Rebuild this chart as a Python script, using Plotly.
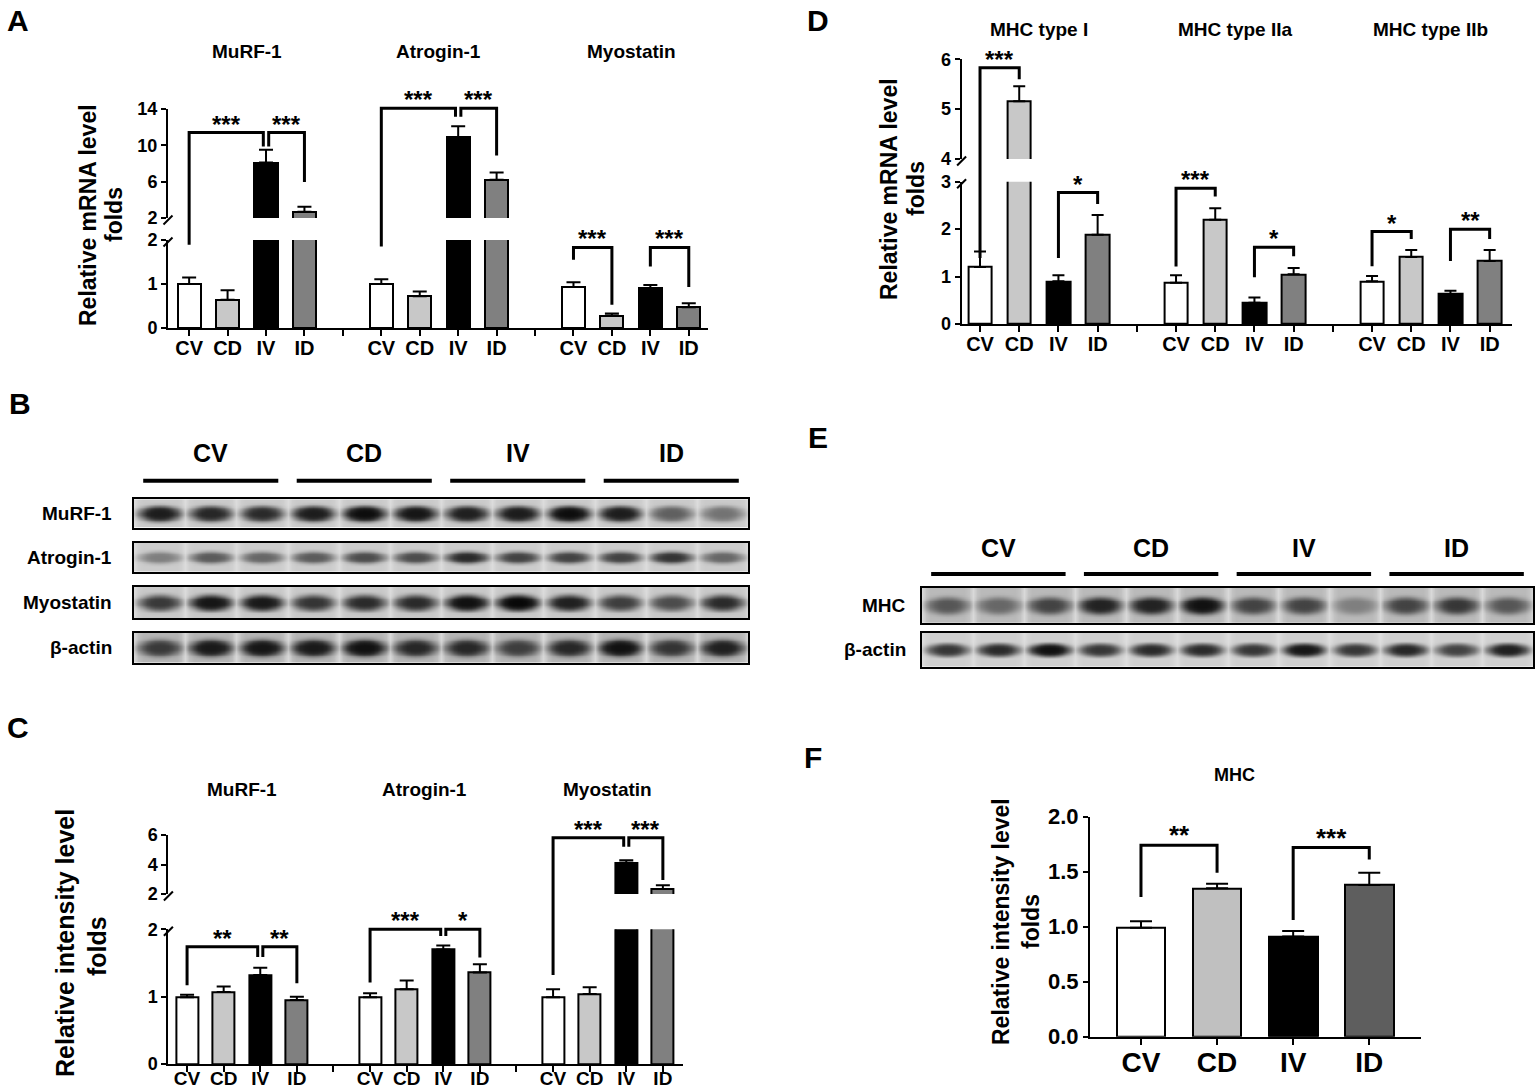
import numpy as np
import plotly.graph_objects as go

W, H = 1535, 1092
FONT = "Liberation Sans, Arial, Helvetica, sans-serif"

groups = ["CV", "CD", "IV", "ID"]
colors_acd = ["#ffffff", "#c8c8c8", "#000000", "#808080"]
colors_f = ["#ffffff", "#c0c0c0", "#000000", "#5e5e5e"]

# ---------------- Panel A : relative mRNA (atrophy genes)
a_genes = ["MuRF-1", "Atrogin-1", "Myostatin"]
a_mean = [[1.00, 0.64, 8.1, 2.7],
          [1.00, 0.72, 10.9, 6.2],
          [0.93, 0.28, 0.90, 0.47]]
a_sem = [[0.15, 0.22, 1.4, 0.55],
         [0.11, 0.11, 1.2, 0.8],
         [0.11, 0.05, 0.08, 0.09]]
a_ticks = [[0, 1, 2], [2, 6, 10, 14]]
# (gene, bar i, bar j, bracket top, leg i bottom, leg j bottom, label)
a_sig = [(0, 0, 2, 11.4, 1.89, 9.87, "***"),
         (0, 2, 3, 11.4, 9.87, 5.95, "***"),
         (1, 0, 2, 14.07, 1.85, 13.16, "***"),
         (1, 2, 3, 14.07, 13.16, 8.88, "***"),
         (2, 0, 1, 1.83, 1.55, 0.53, "***"),
         (2, 2, 3, 1.83, 1.40, 0.93, "***")]

# ---------------- Panel D : relative mRNA (MHC isoforms)
d_genes = ["MHC type I", "MHC type IIa", "MHC type IIb"]
d_mean = [[1.20, 5.16, 0.90, 1.88],
          [0.87, 2.20, 0.45, 1.05],
          [0.90, 1.41, 0.63, 1.33]]
d_sem = [[0.33, 0.30, 0.13, 0.42],
         [0.16, 0.24, 0.11, 0.13],
         [0.11, 0.15, 0.07, 0.23]]
d_ticks = [[0, 1, 2, 3], [4, 5, 6]]
d_sig = [(0, 0, 1, 5.83, 1.39, 5.60, "***"),
         (0, 2, 3, 2.77, 1.39, 2.53, "*"),
         (1, 0, 1, 2.86, 1.21, 2.69, "***"),
         (1, 2, 3, 1.62, 0.985, 1.43, "*"),
         (2, 0, 1, 1.95, 1.22, 1.79, "*"),
         (2, 2, 3, 2.00, 1.33, 1.79, "**")]

# ---------------- Panel C : relative band intensity (atrophy proteins)
c_genes = ["MuRF-1", "Atrogin-1", "Myostatin"]
c_mean = [[0.99, 1.07, 1.32, 0.95],
          [0.99, 1.11, 1.70, 1.36],
          [0.99, 1.04, 4.12, 2.34]]
c_sem = [[0.04, 0.08, 0.11, 0.05],
         [0.06, 0.13, 0.06, 0.12],
         [0.12, 0.10, 0.16, 0.25]]
c_ticks = [[0, 1, 2], [2, 4, 6]]
c_sig = [(0, 0, 2, 1.74, 1.17, 1.59, "**"),
         (0, 2, 3, 1.74, 1.59, 1.20, "**"),
         (1, 0, 2, 2.00, 1.21, 1.90, "***"),
         (1, 2, 3, 2.00, 1.90, 1.58, "*"),
         (2, 0, 2, 5.82, 1.32, 5.20, "***"),
         (2, 2, 3, 5.82, 5.20, 2.95, "***")]

# ---------------- Panel F : relative band intensity (MHC)
f_genes = ["MHC"]
f_mean = [[0.99, 1.35, 0.91, 1.38]]
f_sem = [[0.06, 0.04, 0.05, 0.11]]
f_ticks = [[0.0, 0.5, 1.0, 1.5, 2.0]]
f_ticktext = [["0.0", "0.5", "1.0", "1.5", "2.0"]]
f_sig = [(0, 0, 1, 1.74, 1.27, 1.49, "**"),
         (0, 2, 3, 1.72, 1.06, 1.61, "***")]

# ---------------- Western blots (relative band darkness per lane, 3 lanes per group)
b_rows = ["MuRF-1", "Atrogin-1", "Myostatin", "β-actin"]
b_bands = [[0.88, 0.82, 0.80, 0.88, 0.97, 0.92, 0.86, 0.88, 0.97, 0.88, 0.58, 0.50],
           [0.45, 0.60, 0.55, 0.60, 0.66, 0.66, 0.80, 0.70, 0.70, 0.70, 0.76, 0.55],
           [0.74, 0.92, 0.90, 0.76, 0.80, 0.80, 0.95, 1.00, 0.86, 0.72, 0.66, 0.80],
           [0.74, 0.90, 0.92, 0.90, 0.95, 0.82, 0.82, 0.72, 0.82, 0.95, 0.76, 0.86]]
e_rows = ["MHC", "β-actin"]
e_bands = [[0.62, 0.55, 0.70, 0.85, 0.85, 0.95, 0.70, 0.70, 0.45, 0.70, 0.75, 0.62],
           [0.75, 0.80, 0.95, 0.75, 0.80, 0.80, 0.75, 0.92, 0.75, 0.82, 0.70, 0.86]]

# ======================================================================
def xp(px):
    return px / W


def yp(py):
    return 1 - py / H


def axkey(a):
    return a[0] + "axis" + a[1:]


def bfont(size):
    return dict(family=FONT, size=size, color="black", weight="bold")


fig = go.Figure()
lay = {}
shapes = []
annos = []

PANELS = {
    "A": dict(x="x", xpx=(168, 708), xr=(-0.55, 13.5),
              segs=[dict(y="y", py=(240, 328), r=(0, 2)),
                    dict(y="y2", py=(109, 218), r=(2, 14))]),
    "D": dict(x="x2", xpx=(961.6, 1511.6), xr=(-0.47, 13.56),
              segs=[dict(y="y3", py=(181.7, 324), r=(0, 3)),
                    dict(y="y4", py=(59.3, 159), r=(4, 6))]),
    "C": dict(x="x3", xpx=(168.4, 683), xr=(-0.51, 13.55),
              segs=[dict(y="y5", py=(929.3, 1064), r=(0, 2)),
                    dict(y="y6", py=(835, 894), r=(2, 6))]),
    "F": dict(x="x4", xpx=(1090, 1421), xr=(-0.67, 3.68),
              segs=[dict(y="y7", py=(816.7, 1036.7), r=(0, 2))]),
}


def val_to_paper(p, v):
    segs = p["segs"]
    seg = segs[0]
    if len(segs) > 1 and v > segs[0]["r"][1]:
        seg = segs[1]
    top, bot = seg["py"]
    r0, r1 = seg["r"]
    return yp(bot - (v - r0) / (r1 - r0) * (bot - top))


def bar_panel(p, genes, means, sems, colors, ticks, ticktext, xfs, yfs,
              width, cap, title_py, title_fs=19, title_x=None, xstand=-5):
    n = len(means)
    xs = [g * 5 + k for g in range(n) for k in range(4)]
    ys = [v for row in means for v in row]
    es = [v for row in sems for v in row]
    cs = colors * n
    for seg in p["segs"]:
        fig.add_trace(go.Bar(
            x=xs, y=ys, xaxis=p["x"], yaxis=seg["y"], width=width,
            marker=dict(color=cs, line=dict(color="black", width=2)),
            error_y=dict(type="data", array=es, arrayminus=[0] * len(es),
                         symmetric=False, color="black", thickness=2, width=cap),
            hoverinfo="skip", showlegend=False))
    tv = list(range(n * 5 - 1))
    tt = [groups[t % 5] if t % 5 < 4 else "" for t in tv]
    lay[axkey(p["x"])] = dict(
        domain=[xp(p["xpx"][0]), xp(p["xpx"][1])], range=list(p["xr"]),
        anchor=p["segs"][0]["y"], showline=True, linecolor="black", linewidth=2,
        ticks="outside", ticklen=6, tickwidth=2, tickcolor="black",
        tickmode="array", tickvals=tv, ticktext=tt, tickfont=bfont(xfs),
        ticklabelstandoff=xstand,
        showgrid=False, zeroline=False, automargin=False)
    for si, seg in enumerate(p["segs"]):
        top, bot = seg["py"]
        tk = ticks[si]
        txt = ticktext[si] if ticktext else [str(t) for t in tk]
        lay[axkey(seg["y"])] = dict(
            domain=[yp(bot), yp(top)], range=list(seg["r"]), anchor=p["x"],
            showline=True, linecolor="black", linewidth=2,
            ticks="outside", ticklen=5, tickwidth=2, tickcolor="black",
            tickmode="array", tickvals=tk, ticktext=txt, tickfont=bfont(yfs),
            showgrid=False, zeroline=False, automargin=False)
    # axis break marks
    if len(p["segs"]) > 1:
        ax_x = p["xpx"][0]
        for yend in (p["segs"][0]["py"][0], p["segs"][1]["py"][1]):
            shapes.append(dict(type="line", xref="paper", yref="paper",
                               x0=xp(ax_x - 4.5), y0=yp(yend + 6.5),
                               x1=xp(ax_x + 4.5), y1=yp(yend - 2.5),
                               line=dict(color="black", width=2)))
    # titles
    for g, name in enumerate(genes):
        if title_x is None:
            annos.append(dict(text=name, x=g * 5 + 1.5, xref=p["x"], y=yp(title_py),
                              yref="paper", showarrow=False, font=bfont(title_fs),
                              xanchor="center", yanchor="middle"))
        else:
            annos.append(dict(text=name, x=xp(title_x), xref="paper", y=yp(title_py),
                              yref="paper", showarrow=False, font=bfont(title_fs),
                              xanchor="center", yanchor="middle"))


def brackets(p, sig, star_fs=24, lw=3):
    ends = {}
    for s in sig:
        for b in (s[1], s[2]):
            ends[(s[0], b)] = ends.get((s[0], b), 0) + 1
    for (g, i, j, top, li, lj, lab) in sig:
        xi = g * 5 + i
        xj = g * 5 + j
        if ends[(g, i)] > 1:
            xi += 0.07
        if ends[(g, j)] > 1:
            xj -= 0.07
        yt = val_to_paper(p, top)
        yi = val_to_paper(p, li)
        yj = val_to_paper(p, lj)
        shapes.append(dict(type="path", xref=p["x"], yref="paper",
                           path=f"M {xi},{yi} L {xi},{yt} L {xj},{yt} L {xj},{yj}",
                           line=dict(color="black", width=lw)))
        annos.append(dict(text=lab, x=(xi + xj) / 2, xref=p["x"], y=yt, yref="paper",
                          showarrow=False, font=bfont(star_fs), xanchor="center",
                          yanchor="bottom", yshift=-7))


def ytitle(lines, fs):
    for text, x_px, y_px in lines:
        annos.append(dict(text=text, x=xp(x_px), y=yp(y_px), xref="paper", yref="paper",
                          showarrow=False, textangle=-90, font=bfont(fs),
                          xanchor="center", yanchor="middle"))


# ---------- bar panels
bar_panel(PANELS["A"], a_genes, a_mean, a_sem, colors_acd, a_ticks, None, 20, 18, 0.6, 7, 51)
brackets(PANELS["A"], a_sig)
ytitle([("Relative mRNA level", 88, 215), ("folds", 114, 215)], 23)

bar_panel(PANELS["D"], d_genes, d_mean, d_sem, colors_acd, d_ticks, None, 20, 18, 0.6, 6, 29)
brackets(PANELS["D"], d_sig)
ytitle([("Relative mRNA level", 889, 189), ("folds", 916, 189)], 23)

bar_panel(PANELS["C"], c_genes, c_mean, c_sem, colors_acd, c_ticks, None, 19, 18, 0.6, 7, 789,
          xstand=-10)
brackets(PANELS["C"], c_sig)
ytitle([("Relative intensity level", 65, 943), ("folds", 97, 946)], 25)

bar_panel(PANELS["F"], f_genes, f_mean, f_sem, colors_f, f_ticks, f_ticktext, 28, 22, 0.64, 11, 775,
          title_fs=18, title_x=1234, xstand=-6)
brackets(PANELS["F"], f_sig, star_fs=26)
ytitle([("Relative intensity level", 1001, 922), ("folds", 1031, 922)], 23)

# ---------- western blots
BLOT_SCALE = [[0.0, "#e2e2e2"], [0.14, "#c8c8c8"], [0.5, "#737373"],
              [0.8, "#2a2a2a"], [1.0, "#080808"]]


def blot_strip(xax, yax, xpx, pyr, intens, thick, bg):
    n = len(intens)
    xs = np.linspace(-0.5, n - 0.5, n * 12 + 1)
    ys = np.linspace(0, 1, 19)
    X, Y = np.meshgrid(xs, ys)
    lane = np.clip(np.round(X), 0, n - 1).astype(int)
    dx = X - lane
    dy = Y - 0.5
    inten = np.array(intens)[lane]
    r2 = (dx / 0.43) ** 2 + (dy / (thick / 2)) ** 2
    prof = np.exp(-(r2 ** 2))
    streak = np.exp(-((np.abs(dx) - 0.5) / 0.07) ** 2)
    base = bg * (1 - 0.75 * streak)
    z = base + (inten - base) * prof
    fig.add_trace(go.Heatmap(x=xs, y=ys, z=z.tolist(), zmin=0, zmax=1,
                             colorscale=BLOT_SCALE, showscale=False, zsmooth="best",
                             xaxis=xax, yaxis=yax, hoverinfo="skip"))
    common = dict(showline=True, mirror=True, linecolor="black", linewidth=1.5,
                  ticks="", showticklabels=False, showgrid=False, zeroline=False,
                  automargin=False)
    lay[axkey(xax)] = dict(domain=[xp(xpx[0]), xp(xpx[1])], range=[-0.5, n - 0.5],
                           anchor=yax, **common)
    lay[axkey(yax)] = dict(domain=[yp(pyr[1]), yp(pyr[0])], range=[0, 1],
                           anchor=xax, **common)


def blot_panel(rows, bands, xaxes, yaxes, xpx, strips_py, label_right, thick, bgs,
               grp_py, line_py, rfs):
    for k in range(len(rows)):
        blot_strip(xaxes[k], yaxes[k], xpx, strips_py[k], bands[k], thick[k], bgs[k])
        annos.append(dict(text=rows[k], x=xp(label_right), xref="paper",
                          y=yp((strips_py[k][0] + strips_py[k][1]) / 2), yref="paper",
                          showarrow=False, font=bfont(rfs), xanchor="right",
                          yanchor="middle"))
    for gi, gname in enumerate(groups):
        c = gi * 3 + 1
        annos.append(dict(text=gname, x=c, xref=xaxes[0], y=yp(grp_py), yref="paper",
                          showarrow=False, font=bfont(25), xanchor="center",
                          yanchor="middle"))
        shapes.append(dict(type="line", xref=xaxes[0], yref="paper", x0=c - 1.32,
                           x1=c + 1.32, y0=yp(line_py), y1=yp(line_py),
                           line=dict(color="black", width=4)))


blot_panel(b_rows, b_bands, ["x5", "x6", "x7", "x8"], ["y8", "y9", "y10", "y11"],
           (134, 748), [(499.3, 527.7), (542.7, 571.7), (586.7, 618.3), (632.7, 662.7)],
           114, [0.56, 0.42, 0.52, 0.58], [0.13, 0.12, 0.14, 0.22], 453, 480.7, 19)
blot_panel(e_rows, e_bands, ["x9", "x10"], ["y12", "y13"],
           (922, 1533), [(588, 622.7), (632.7, 666.7)],
           908, [0.52, 0.38], [0.2, 0.1], 548, 574, 19)

# ---------- panel letters
for letter, lx, ly in [("A", 18, 20), ("B", 20, 403), ("C", 18, 727),
                       ("D", 818, 20), ("E", 818, 437), ("F", 813, 757)]:
    annos.append(dict(text=letter, x=xp(lx), y=yp(ly), xref="paper", yref="paper",
                      showarrow=False, font=bfont(30), xanchor="center", yanchor="middle"))

fig.update_layout(
    template="none", width=W, height=H, margin=dict(l=0, r=0, t=0, b=0, pad=0),
    paper_bgcolor="white", plot_bgcolor="rgba(0,0,0,0)", showlegend=False,
    font=dict(family=FONT, color="black"), bargap=0,
    shapes=shapes, annotations=annos, **lay)

fig.write_html("out.html", config={"displayModeBar": False},
               post_script="document.body.style.margin='0';")
